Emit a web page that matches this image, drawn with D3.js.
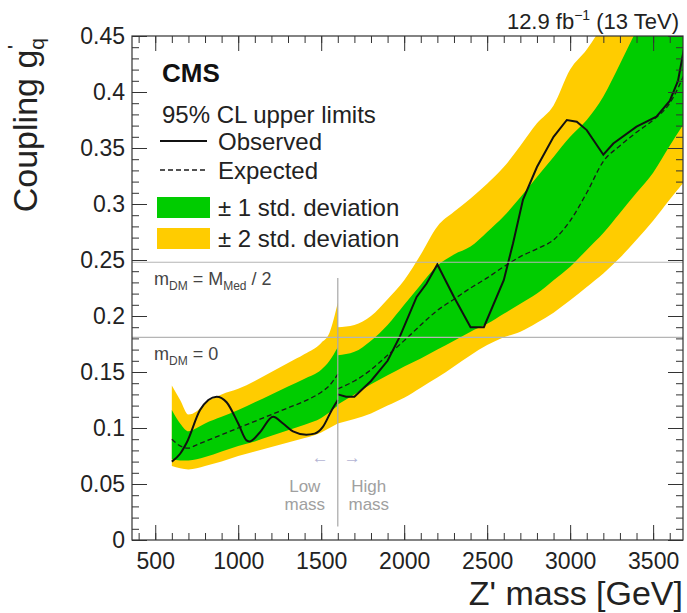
<!DOCTYPE html>
<html>
<head>
<meta charset="utf-8">
<script src="https://cdn.jsdelivr.net/npm/d3@7"></script>
<style>
  html, body { margin: 0; padding: 0; background: #fff; }
  svg { display: block; font-family: "Liberation Sans", Arial, Helvetica, sans-serif; }
</style>
</head>
<body>
<svg id="chart" width="687" height="613"></svg>
<script>
// Z' mass points (GeV) for the low-mass and high-mass analyses
const massLow  = [600, 650, 700, 750, 800, 900, 1000, 1100, 1200, 1300, 1400, 1500, 1550, 1600];
const yellowHiLow = [0.138, 0.125, 0.112, 0.115, 0.122, 0.130, 0.135, 0.142, 0.150, 0.158, 0.166, 0.176, 0.185, 0.212];
const greenHiLow  = [0.116, 0.104, 0.097, 0.100, 0.104, 0.110, 0.116, 0.123, 0.130, 0.137, 0.144, 0.152, 0.160, 0.172];
const expLow      = [0.090, 0.084, 0.082, 0.085, 0.088, 0.094, 0.100, 0.106, 0.112, 0.118, 0.124, 0.132, 0.138, 0.148];
const greenLoLow  = [0.072, 0.071, 0.071, 0.072, 0.074, 0.079, 0.084, 0.088, 0.093, 0.098, 0.103, 0.109, 0.114, 0.120];
const yellowLoLow = [0.066, 0.064, 0.063, 0.064, 0.066, 0.070, 0.075, 0.079, 0.083, 0.087, 0.091, 0.096, 0.100, 0.104];

const massHigh = [1600, 1700, 1800, 1900, 2000, 2100, 2200, 2300, 2400, 2500, 2600, 2700, 2800, 2900, 3000, 3100, 3200, 3300, 3400, 3500, 3600, 3700];
const yellowHiHigh = [0.190, 0.192, 0.200, 0.215, 0.232, 0.255, 0.280, 0.293, 0.305, 0.318, 0.333, 0.352, 0.372, 0.388, 0.420, 0.438, 0.460, 0.480, 0.500, 0.520, 0.540, 0.560];
const greenHiHigh  = [0.165, 0.168, 0.178, 0.192, 0.210, 0.228, 0.245, 0.255, 0.262, 0.275, 0.289, 0.306, 0.324, 0.342, 0.360, 0.375, 0.396, 0.425, 0.455, 0.480, 0.500, 0.520];
const expHigh      = [0.135, 0.142, 0.152, 0.165, 0.178, 0.192, 0.205, 0.215, 0.225, 0.234, 0.244, 0.253, 0.260, 0.268, 0.285, 0.310, 0.338, 0.352, 0.364, 0.375, 0.390, 0.420];
const greenLoHigh  = [0.121, 0.130, 0.139, 0.147, 0.155, 0.162, 0.170, 0.178, 0.186, 0.193, 0.202, 0.211, 0.220, 0.232, 0.244, 0.259, 0.274, 0.292, 0.310, 0.328, 0.352, 0.375];
const yellowLoHigh = [0.104, 0.108, 0.113, 0.120, 0.127, 0.136, 0.145, 0.155, 0.165, 0.174, 0.181, 0.186, 0.194, 0.203, 0.214, 0.226, 0.238, 0.252, 0.268, 0.285, 0.304, 0.322];

// Observed limits
const obsMassLow = [600, 650, 690, 770, 820, 870, 930, 1000, 1050, 1070, 1130, 1210, 1270, 1330, 1410, 1460, 1510, 1560, 1600];
const obsLow     = [0.070, 0.077, 0.087, 0.116, 0.125, 0.128, 0.123, 0.104, 0.089, 0.088, 0.096, 0.110, 0.104, 0.097, 0.094, 0.095, 0.101, 0.115, 0.125];
const obsMassHigh = [1600, 1650, 1700, 1800, 1900, 1975, 2075, 2135, 2200, 2300, 2400, 2480, 2600, 2656, 2716, 2800, 2900, 2980, 3040, 3100, 3200, 3260, 3400, 3520, 3600, 3650, 3700];
const obsHigh     = [0.130, 0.128, 0.128, 0.142, 0.160, 0.182, 0.217, 0.229, 0.246, 0.217, 0.190, 0.190, 0.232, 0.265, 0.304, 0.333, 0.360, 0.375, 0.3735, 0.366, 0.344, 0.354, 0.369, 0.378, 0.392, 0.410, 0.450];

// Reference coupling lines and annotations
const refLines = [
  { value: 0.248, sub1: "DM", rhs: "M", sub2: "Med", tail: " / 2" },
  { value: 0.181, sub1: "DM", rhs: "0", sub2: "", tail: "" }
];
const splitMass = 1600;

const yTicks = [0, 0.05, 0.1, 0.15, 0.2, 0.25, 0.3, 0.35, 0.4, 0.45];
const xTicks = [500, 1000, 1500, 2000, 2500, 3000, 3500];

(function draw() {
const svg = d3.select("#chart");
const pL = 132, pR = 683, pT = 36, pB = 540;

const x = d3.scaleLinear().domain([360, 3680]).range([pL, pR]);
const y = d3.scaleLinear().domain([0, 0.45]).range([pB, pT]);

svg.append("defs").append("clipPath").attr("id", "plotClip")
  .append("rect").attr("x", pL).attr("y", pT).attr("width", pR - pL).attr("height", pB - pT);

const plot = svg.append("g").attr("clip-path", "url(#plotClip)");

const GREEN = "#00cc00", YELLOW = "#ffcc00";

function band(mass, lo, hi, color) {
  const a = d3.area().curve(d3.curveMonotoneX)
    .x((d, i) => x(mass[i])).y0((d, i) => y(lo[i])).y1((d, i) => y(hi[i]));
  plot.append("path").datum(mass).attr("d", a).attr("fill", color).attr("stroke", "none");
}
band(massLow, yellowLoLow, yellowHiLow, YELLOW);
band(massHigh, yellowLoHigh, yellowHiHigh, YELLOW);
band(massLow, greenLoLow, greenHiLow, GREEN);
band(massHigh, greenLoHigh, greenHiHigh, GREEN);

function curve(mass, vals, style, interp) {
  const l = d3.line().curve(interp).x((d, i) => x(mass[i])).y((d, i) => y(vals[i]));
  const p = plot.append("path").datum(mass).attr("d", l).attr("fill", "none");
  Object.entries(style).forEach(([k, v]) => p.attr(k, v));
}
const expStyle = { stroke: "#1a1a1a", "stroke-width": 1.3, "stroke-dasharray": "5,3" };
const obsStyle = { stroke: "#111", "stroke-width": 2 };
curve(massLow, expLow, expStyle, d3.curveMonotoneX);
curve(massHigh, expHigh, expStyle, d3.curveMonotoneX);
curve(obsMassLow, obsLow, obsStyle, d3.curveMonotoneX);
curve(obsMassHigh, obsHigh, obsStyle, d3.curveLinear);

// reference horizontal lines
refLines.forEach(r => {
  svg.append("line").attr("x1", pL).attr("x2", pR).attr("y1", y(r.value)).attr("y2", y(r.value))
    .attr("stroke", "#b5b5b5").attr("stroke-width", 1.2);
  const t = svg.append("text").attr("x", 154).attr("y", y(r.value) + 23)
    .attr("font-size", 18).attr("fill", "#444");
  t.append("tspan").text("m");
  t.append("tspan").attr("font-size", 12).attr("dy", 5).text(r.sub1);
  t.append("tspan").attr("dy", -5).text(" = " + r.rhs);
  if (r.sub2) {
    t.append("tspan").attr("font-size", 12).attr("dy", 5).text(r.sub2);
    t.append("tspan").attr("dy", -5).text(r.tail);
  }
});

// low / high mass divider
const xs = x(splitMass);
svg.append("line").attr("x1", xs).attr("x2", xs)
  .attr("y1", y(0.234)).attr("y2", y(0.012)).attr("stroke", "#a8a8a8").attr("stroke-width", 1.2);
const lm = svg.append("g").attr("fill", "#a0a0a0").attr("font-size", 17);
lm.append("text").attr("x", xs - 9).attr("y", 463).attr("text-anchor", "end").attr("fill", "#b4b4d4").text("\u2190");
lm.append("text").attr("x", xs + 6).attr("y", 463).attr("text-anchor", "start").attr("fill", "#b4b4d4").text("\u2192");
lm.append("text").attr("x", xs - 33).attr("y", 492).attr("text-anchor", "middle").text("Low");
lm.append("text").attr("x", xs - 33).attr("y", 510).attr("text-anchor", "middle").text("mass");
lm.append("text").attr("x", xs + 31).attr("y", 492).attr("text-anchor", "middle").text("High");
lm.append("text").attr("x", xs + 31).attr("y", 510).attr("text-anchor", "middle").text("mass");

// axes with ROOT-style inward ticks
const yMinor = d3.range(0, 0.4501, 0.01);
const xMinor = d3.range(400, 3681, 100);
function axisGroup(axis, tx, ty) {
  const g = svg.append("g").attr("transform", `translate(${tx},${ty})`).call(axis);
  g.select(".domain").remove();
  g.selectAll("line").attr("stroke", "#333").attr("stroke-width", 1);
  return g;
}
const tickFont = 23;
const yAx = axisGroup(d3.axisLeft(y).tickValues(yTicks).tickSize(-15).tickPadding(7).tickFormat(d3.format("~g")), pL, 0);
yAx.selectAll("text").attr("font-size", tickFont).attr("fill", "#222").attr("font-family", "Liberation Sans, Arial, sans-serif");
axisGroup(d3.axisLeft(y).tickValues(yMinor).tickSize(-7).tickFormat(""), pL, 0);
axisGroup(d3.axisRight(y).tickValues(yTicks).tickSize(-15).tickFormat(""), pR, 0);
axisGroup(d3.axisRight(y).tickValues(yMinor).tickSize(-7).tickFormat(""), pR, 0);
const xAx = axisGroup(d3.axisBottom(x).tickValues(xTicks).tickSize(-15).tickPadding(13).tickFormat(d3.format("d")), 0, pB);
xAx.selectAll("text").attr("font-size", tickFont).attr("fill", "#222").attr("font-family", "Liberation Sans, Arial, sans-serif");
axisGroup(d3.axisBottom(x).tickValues(xMinor).tickSize(-7).tickFormat(""), 0, pB);
axisGroup(d3.axisTop(x).tickValues(xTicks).tickSize(-15).tickFormat(""), 0, pT);
axisGroup(d3.axisTop(x).tickValues(xMinor).tickSize(-7).tickFormat(""), 0, pT);

svg.append("rect").attr("x", pL).attr("y", pT).attr("width", pR - pL).attr("height", pB - pT)
  .attr("fill", "none").attr("stroke", "#333").attr("stroke-width", 1.2);

// axis titles
svg.append("text").attr("x", pR).attr("y", 605).attr("text-anchor", "end")
  .attr("font-size", 34).attr("fill", "#222").text("Z' mass [GeV]");
const yt = svg.append("text").attr("transform", `translate(37,${pT + 2}) rotate(-90)`)
  .attr("text-anchor", "end").attr("font-size", 34).attr("fill", "#222");
yt.append("tspan").text("Coupling g");
yt.append("tspan").attr("font-size", 21).attr("dy", 7).text("q");
yt.append("tspan").attr("font-size", 21).attr("dy", -22).attr("dx", -11).text("'");

// luminosity label
const lum = svg.append("text").attr("x", 679).attr("y", 29).attr("text-anchor", "end")
  .attr("font-size", 22).attr("fill", "#222");
lum.append("tspan").text("12.9 fb");
lum.append("tspan").attr("font-size", 14).attr("dy", -9).text("\u22121");
lum.append("tspan").attr("dy", 9).text(" (13 TeV)");

// legend
const lg = svg.append("g");
lg.append("text").attr("x", 162).attr("y", 82).attr("font-size", 26).attr("font-weight", "bold").attr("fill", "#111").text("CMS");
lg.append("text").attr("x", 162).attr("y", 123).attr("font-size", 24).attr("fill", "#222").text("95% CL upper limits");
const legItems = [
  { label: "Observed", kind: "line", style: obsStyle, yc: 141 },
  { label: "Expected", kind: "line", style: expStyle, yc: 170 },
  { label: "\u00b1 1 std. deviation", kind: "box", color: GREEN, yc: 207 },
  { label: "\u00b1 2 std. deviation", kind: "box", color: YELLOW, yc: 238 }
];
legItems.forEach(it => {
  if (it.kind === "line") {
    const l = lg.append("line").attr("x1", 160).attr("x2", 207).attr("y1", it.yc).attr("y2", it.yc);
    Object.entries(it.style).forEach(([k, v]) => l.attr(k, v));
  } else {
    lg.append("rect").attr("x", 157).attr("y", it.yc - 10).attr("width", 53).attr("height", 21).attr("fill", it.color);
  }
  lg.append("text").attr("x", 218).attr("y", it.yc + 9).attr("font-size", 24).attr("fill", "#222").text(it.label);
});
})();
</script>
</body>
</html>
